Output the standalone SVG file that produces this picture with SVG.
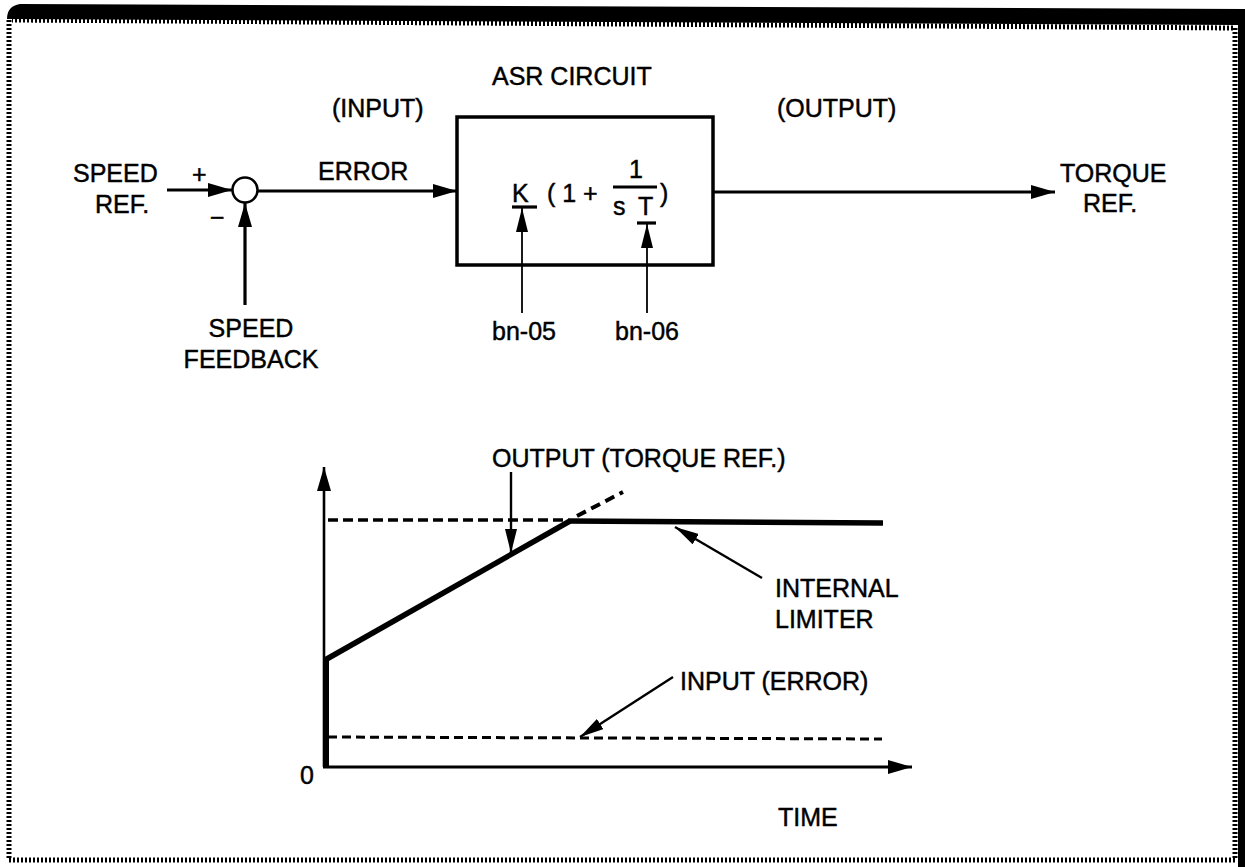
<svg xmlns="http://www.w3.org/2000/svg" width="1245" height="867" viewBox="0 0 1245 867">
<defs>
<style>
text{font-family:"Liberation Sans",Arial,Helvetica,sans-serif;font-size:25px;fill:#000;stroke:#000;stroke-width:0.45}
.ln{stroke:#000;fill:none;stroke-linecap:butt}
.thin{stroke-width:1.8}
.med{stroke-width:2.4}
.thick{stroke-width:3.2}
.dash{stroke-dasharray:10 5}
.dot{stroke:#000;fill:none;stroke-width:5;stroke-dasharray:2 2}
</style>
<marker id="ah" viewBox="0 0 24 14" refX="24" refY="7" markerWidth="24" markerHeight="14" markerUnits="userSpaceOnUse" orient="auto">
<path d="M0,0 L24,7 L0,14 z" fill="#000"/>
</marker>
<marker id="ahs" viewBox="0 0 24 12" refX="24" refY="6" markerWidth="24" markerHeight="12" markerUnits="userSpaceOnUse" orient="auto">
<path d="M0,0 L24,6 L0,12 z" fill="#000"/>
</marker>
</defs>
<rect x="0" y="0" width="1245" height="867" fill="#fff"/>
<g id="frame">
<path class="dot" d="M9,20 L9,860 L1235,860 L1235,28 L12,20"/>
<path d="M7,19 Q7,6 20,4 L1245,9 L1245,867 L1238,867 L1238,25 Z" fill="#000"/>
</g>
<g id="connectors">
<line class="ln thick" x1="167" y1="190" x2="232" y2="190" marker-end="url(#ah)"/>
<line class="ln thick" x1="245" y1="305" x2="245" y2="203" marker-end="url(#ah)"/>
<line class="ln thick" x1="258" y1="191" x2="457" y2="191" marker-end="url(#ah)"/>
<line class="ln thick" x1="713" y1="192" x2="1055" y2="192" marker-end="url(#ah)"/>
<line class="ln thin" x1="522" y1="313" x2="522" y2="208" marker-end="url(#ahs)"/>
<line class="ln thin" x1="647" y1="313" x2="647" y2="224" marker-end="url(#ahs)"/>
</g>
<g id="summing-junction">
<circle cx="245" cy="190" r="12.5" fill="#fff" stroke="#000" stroke-width="2.5"/>
<text x="192" y="183">+</text>
<text x="210" y="226">−</text>
</g>
<g id="speed-ref">
<text x="73" y="182">SPEED</text>
<text x="95" y="213">REF.</text>
</g>
<g id="speed-feedback">
<text x="251" y="337" text-anchor="middle">SPEED</text>
<text x="251" y="368" text-anchor="middle">FEEDBACK</text>
</g>
<g id="labels-top">
<text x="318" y="180">ERROR</text>
<text x="332" y="117">(INPUT)</text>
<text x="777" y="117">(OUTPUT)</text>
</g>
<g id="asr-circuit">
<text x="492" y="85">ASR CIRCUIT</text>
<rect x="457" y="117" width="256" height="148" fill="none" stroke="#000" stroke-width="3.5"/>
<text x="512" y="202">K</text>
<text x="547" y="202">( 1 +</text>
<text x="629" y="178">1</text>
<text x="613" y="215">s</text>
<text x="638" y="215">T</text>
<text x="660" y="202">)</text>
<line class="ln thick" x1="512" y1="207" x2="537" y2="207"/>
<line class="ln thick" x1="613" y1="187" x2="657" y2="187"/>
<line class="ln thick" x1="637" y1="223" x2="656" y2="223"/>
</g>
<g id="bn-05"><text x="492" y="340">bn-05</text></g>
<g id="bn-06"><text x="615" y="340">bn-06</text></g>
<g id="torque-ref">
<text x="1060" y="182">TORQUE</text>
<text x="1083" y="212">REF.</text>
</g>
<g id="graph">
<line class="ln" stroke-width="2.6" x1="324" y1="767" x2="324" y2="467" marker-end="url(#ah)"/>
<line class="ln" stroke-width="6" x1="326" y1="658" x2="326" y2="768"/>
<line class="ln thick" x1="323" y1="767" x2="912" y2="767" marker-end="url(#ah)"/>
<line class="ln dash" stroke-width="3.5" x1="328" y1="520" x2="568" y2="520"/>
<line class="ln" stroke-width="5.5" x1="325" y1="660" x2="570" y2="521"/>
<line class="ln" stroke-width="5.5" x1="568" y1="521" x2="883" y2="523"/>
<line class="ln" stroke-width="4" stroke-dasharray="10 6" x1="577" y1="516" x2="623" y2="492"/>
<line class="ln" stroke-width="3" stroke-dasharray="9 5" x1="328" y1="737" x2="882" y2="739"/>
<line class="ln med" x1="511" y1="472" x2="511" y2="553" marker-end="url(#ahs)"/>
<line class="ln med" x1="762" y1="578" x2="675" y2="527" marker-end="url(#ahs)"/>
<line class="ln med" x1="673" y1="677" x2="580" y2="737" marker-end="url(#ahs)"/>
<text x="492" y="467">OUTPUT (TORQUE REF.)</text>
<text x="775" y="597">INTERNAL</text>
<text x="775" y="628">LIMITER</text>
<text x="680" y="690">INPUT (ERROR)</text>
<text x="300" y="784">0</text>
<text x="778" y="826">TIME</text>
</g>
</svg>
